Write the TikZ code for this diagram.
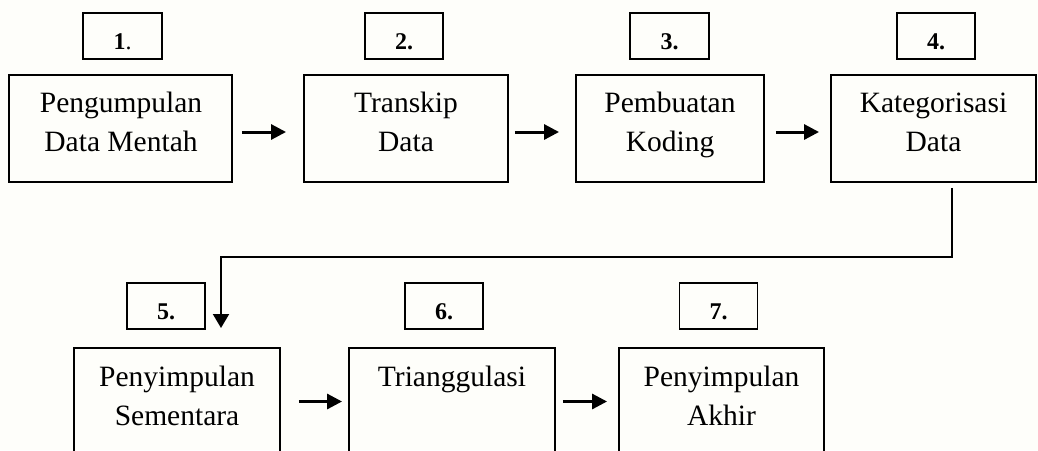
\documentclass[tikz,border=0pt]{standalone}
\usepackage{fontspec}
\setmainfont{Liberation Serif}
\usetikzlibrary{arrows.meta}
\definecolor{bgc}{RGB}{254,254,250}
\begin{document}
\begin{tikzpicture}[x=1pt,y=-1pt,
  stepbox/.style={draw=black,line width=1.9pt,inner sep=0pt,minimum height=107pt},
  numbox/.style={draw=black,line width=1.9pt,inner sep=0pt,minimum width=78pt,minimum height=46pt,
     font=\fontsize{24}{28}\selectfont\bfseries,text height=26pt,text depth=0pt},
  txt/.style={inner sep=0pt,anchor=base,font=\fontsize{29.5}{39}\selectfont},
  flow/.style={line width=3pt,-{Triangle[length=15pt,width=15pt]}},
  link/.style={line width=2pt,-{Triangle[length=14pt,width=16pt]}}]
\clip (0,0) rectangle (1038,450);
\fill[bgc] (0,0) rectangle (1038,450);
% top row boxes
\node[stepbox,minimum width=223pt] (b1) at (120.5,128.5) {};
\node[stepbox,minimum width=204pt] (b2) at (406,128.5) {};
\node[stepbox,minimum width=188pt] (b3) at (670,128.5) {};
\node[stepbox,minimum width=205pt] (b4) at (933.5,128.5) {};
% bottom row boxes
\node[stepbox,minimum width=206pt] (b5) at (177,401.5) {};
\node[stepbox,minimum width=206pt] (b6) at (452,401.5) {};
\node[stepbox,minimum width=205pt] (b7) at (721.5,401.5) {};
% texts
\node[txt] (t1a) at (121,112) {Pengumpulan};
\node[txt] (t1b) at (121,151) {Data Mentah};
\node[txt] (t2a) at (406,112) {Transkip};
\node[txt] (t2b) at (406,151) {Data};
\node[txt] (t3a) at (670,112) {Pembuatan};
\node[txt] (t3b) at (670,151) {Koding};
\node[txt] (t4a) at (933.5,112) {Kategorisasi};
\node[txt] (t4b) at (933.5,151) {Data};
\node[txt] (t5a) at (177,386) {Penyimpulan};
\node[txt] (t5b) at (177,425) {Sementara};
\node[txt] (t6a) at (452,386) {Trianggulasi};
\node[txt] (t7a) at (721.5,386) {Penyimpulan};
\node[txt] (t7b) at (721.5,425) {Akhir};
% number boxes
\node[numbox,minimum width=79pt] (n1) at (122.5,36) {1\mdseries.};
\node[numbox] (n2) at (404,36) {2.};
\node[numbox,minimum width=79pt] (n3) at (669.5,36) {3.};
\node[numbox] (n4) at (936,36) {4.};
\node[numbox] (n5) at (166,306) {5.};
\node[numbox] (n6) at (444,306) {6.};
\node[numbox] (n7) at (718.5,306) {7.};
% arrows
\draw[flow,shorten <=9pt,shorten >=17pt] ([yshift=-3.5pt]b1.east) -- ([yshift=-3.5pt]b2.west);
\draw[flow,shorten <=6pt,shorten >=16pt] ([yshift=-3.5pt]b2.east) -- ([yshift=-3.5pt]b3.west);
\draw[flow,shorten <=11pt,shorten >=11pt] ([yshift=-3.5pt]b3.east) -- ([yshift=-3.5pt]b4.west);
\draw[flow,shorten <=18pt,shorten >=6pt] (b5.east) -- (b6.west);
\draw[flow,shorten <=7pt,shorten >=11pt] (b6.east) -- (b7.west);
% connector from 4 to 5
\coordinate (turn) at (221,257);
\coordinate (tip) at (221,328);
\draw[link,shorten <=5pt] ([xshift=18.5pt]b4.south) |- (turn) -- (tip);
\end{tikzpicture}
\end{document}
